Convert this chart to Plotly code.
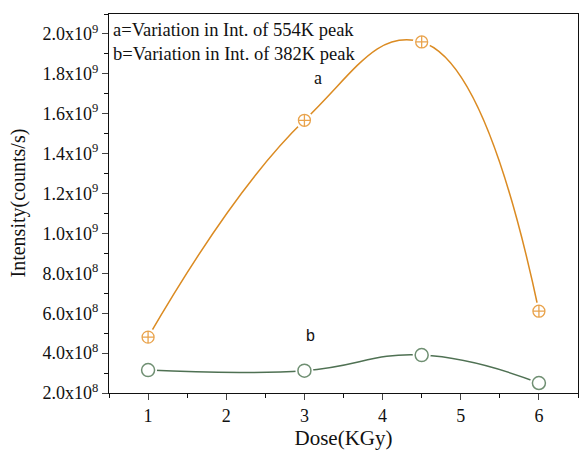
import plotly.graph_objects as go

dose = [1, 3, 4.5, 6]
int_a = [4.8e8, 1.567e9, 1.96e9, 6.1e8]
int_b = [3.15e8, 3.12e8, 3.9e8, 2.5e8]

ytick_vals = [2e8, 4e8, 6e8, 8e8, 1e9, 1.2e9, 1.4e9, 1.6e9, 1.8e9, 2e9]
ytick_text = ["2.0x10<sup>8</sup>", "4.0x10<sup>8</sup>", "6.0x10<sup>8</sup>", "8.0x10<sup>8</sup>",
              "1.0x10<sup>9</sup>", "1.2x10<sup>9</sup>", "1.4x10<sup>9</sup>", "1.6x10<sup>9</sup>",
              "1.8x10<sup>9</sup>", "2.0x10<sup>9</sup>"]

orange_line = "#DB8B22"
orange_mk = "#E9A34C"
green_line = "#4F7153"
green_mk = "#6F8F72"
font = "Liberation Serif"

fig = go.Figure()
for y, lc in [(int_a, orange_line), (int_b, green_line)]:
    fig.add_trace(go.Scatter(x=dose, y=y, mode="lines", line=dict(color=lc, width=1.5, shape="spline", smoothing=1.3),
                             hoverinfo="skip", showlegend=False))
for y in [int_a, int_b]:
    fig.add_trace(go.Scatter(x=dose, y=y, mode="markers",
                             marker=dict(symbol="circle", size=18, color="white"), showlegend=False, hoverinfo="skip"))
fig.add_trace(go.Scatter(x=dose, y=int_a, mode="markers",
                         marker=dict(symbol="circle-cross-open", size=12, color=orange_mk, line=dict(width=1.3)), showlegend=False))
fig.add_trace(go.Scatter(x=dose, y=int_b, mode="markers",
                         marker=dict(symbol="circle-open", size=13, color=green_mk, line=dict(width=1.5)), showlegend=False))

fig.add_annotation(x=0.005, y=0.99, xref="paper", yref="paper", xanchor="left", yanchor="top", align="left",
                   text="a=Variation in Int. of 554K peak<br>b=Variation in Int. of 382K peak",
                   showarrow=False, font=dict(family=font, size=18.5, color="#111"))
fig.add_annotation(x=3.17, y=1.78e9, text="a", showarrow=False, font=dict(family=font, size=18, color="#111"))
fig.add_annotation(x=3.08, y=4.9e8, text="b", showarrow=False, font=dict(family="Liberation Sans", size=16, color="#111"))
fig.add_annotation(x=-91 / 469, y=0.5, xref="paper", yref="paper", text="Intensity(counts/s)", textangle=-90,
                   showarrow=False, font=dict(family=font, size=20, color="#111"), xanchor="center", yanchor="middle")

fig.update_layout(
    width=579, height=450,
    margin=dict(l=109, r=1, t=14, b=57, autoexpand=False),
    plot_bgcolor="white", paper_bgcolor="white",
    font=dict(family=font, size=18, color="#111"),
    xaxis=dict(range=[0.5, 6.5], tickvals=[1, 2, 3, 4, 5, 6], ticks="outside", ticklen=6, tickwidth=1.2,
               showline=True, linecolor="#111", linewidth=1.2, mirror=True, showgrid=False, zeroline=False,
               automargin=False,
               minor=dict(dtick=0.5, tick0=0.5, ticks="outside", ticklen=4, tickcolor="#111"),
               title=dict(text="Dose(KGy)", font=dict(family=font, size=21), standoff=4),
               tickfont=dict(family=font, size=18)),
    yaxis=dict(range=[2.0e8, 2.1e9], tickvals=ytick_vals, ticktext=ytick_text, ticks="outside", ticklen=6,
               tickwidth=1.2, showline=True, linecolor="#111", linewidth=1.2, mirror=True, showgrid=False,
               zeroline=False, automargin=False,
               minor=dict(dtick=1e8, tick0=0, ticks="outside", ticklen=4, tickcolor="#111"),
               tickfont=dict(family=font, size=18)),
)
fig.write_html("out.html", config={"displayModeBar": False},
               post_script="document.body.style.margin='0';document.body.style.overflow='hidden';")
